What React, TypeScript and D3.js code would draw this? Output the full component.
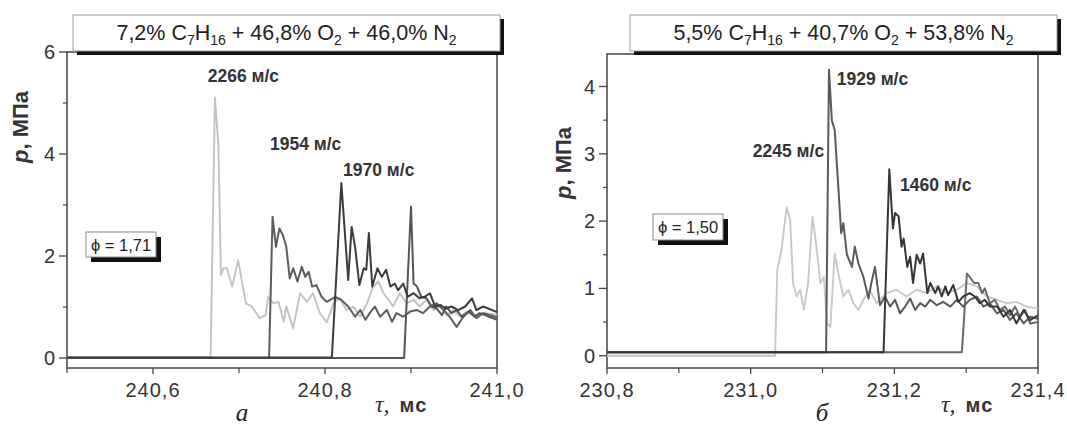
import { useEffect, useRef } from "react";
import * as d3 from "d3";

// ---- panel а : 7,2% C7H16 + 46,8% O2 + 46,0% N2, phi = 1,71 ----
const traceA1 = [
  [240.5, 0.02], [240.667, 0.02], [240.672, 5.11], [240.676, 4.18], [240.679, 1.63],
  [240.682, 1.76], [240.686, 1.76], [240.692, 1.4], [240.699, 1.92], [240.708, 1.07],
  [240.715, 1.01], [240.724, 0.78], [240.731, 0.84], [240.734, 1.2], [240.74, 1.07],
  [240.746, 1.1], [240.752, 0.71], [240.755, 1.01], [240.763, 0.58], [240.771, 1.27],
  [240.779, 1.1], [240.786, 1.27], [240.794, 0.88], [240.802, 0.7], [240.81, 1.07],
  [240.817, 1.17], [240.825, 0.94], [240.833, 1.01], [240.841, 0.81], [240.849, 1.07],
  [240.856, 1.4], [240.862, 1.5], [240.868, 1.27], [240.874, 1.14], [240.879, 1.01],
  [240.887, 1.27], [240.895, 1.07], [240.903, 1.14], [240.91, 1.01], [240.918, 1.14],
  [240.926, 0.94], [240.934, 1.01], [240.942, 0.84], [240.949, 0.94], [240.957, 0.81],
  [240.965, 0.91], [240.972, 0.84], [240.986, 0.88], [241.0, 0.85],
];
const traceA2 = [
  [240.5, 0.0], [240.735, 0.0], [240.739, 2.77], [240.743, 2.18], [240.747, 2.54],
  [240.751, 2.41], [240.755, 2.18], [240.759, 1.56], [240.763, 1.76], [240.768, 1.5],
  [240.773, 1.79], [240.777, 1.59], [240.781, 1.69], [240.785, 1.4], [240.79, 1.43],
  [240.796, 1.2], [240.802, 1.1], [240.812, 1.2], [240.819, 1.14], [240.827, 1.01],
  [240.835, 0.81], [240.841, 0.94], [240.847, 0.75], [240.852, 0.88], [240.858, 1.01],
  [240.864, 0.81], [240.872, 0.94], [240.878, 0.71], [240.883, 0.88], [240.891, 0.81],
  [240.899, 0.91], [240.907, 0.94], [240.914, 0.88], [240.922, 1.01], [240.93, 1.07],
  [240.938, 0.94], [240.945, 0.81], [240.953, 0.61], [240.961, 0.81], [240.969, 0.94],
  [240.976, 0.78], [240.984, 0.88], [241.0, 0.8],
];
const traceA3 = [
  [240.5, 0.01], [240.808, 0.01], [240.819, 3.43], [240.827, 1.53], [240.831, 2.57],
  [240.835, 2.18], [240.84, 1.43], [240.845, 1.76], [240.848, 1.73], [240.851, 2.45],
  [240.855, 1.4], [240.861, 1.76], [240.866, 1.59], [240.871, 1.73], [240.876, 1.4],
  [240.881, 1.46], [240.885, 1.33], [240.891, 1.46], [240.896, 1.2], [240.903, 1.27],
  [240.91, 1.17], [240.916, 1.2], [240.922, 1.27], [240.928, 1.01], [240.934, 1.04],
  [240.941, 0.97], [240.947, 1.01], [240.955, 0.94], [240.963, 1.01], [240.971, 1.17],
  [240.976, 0.94], [240.984, 1.01], [241.0, 0.9],
];
const traceA4 = [
  [240.5, 0.0], [240.892, 0.0], [240.9, 2.97], [240.903, 1.46], [240.907, 1.4],
  [240.912, 1.2], [240.918, 1.17], [240.924, 1.01], [240.93, 0.97], [240.936, 0.84],
  [240.941, 1.01], [240.947, 0.88], [240.953, 0.94], [240.959, 0.81], [240.967, 0.91],
  [240.974, 0.81], [240.98, 0.88], [241.0, 0.75],
];

// ---- panel б : 5,5% C7H16 + 40,7% O2 + 53,8% N2, phi = 1,50 ----
const traceB1 = [
  [230.8, 0.0], [231.034, 0.0], [231.037, 1.27], [231.043, 1.57], [231.05, 2.21],
  [231.055, 2.02], [231.059, 1.08], [231.064, 0.88], [231.069, 0.98], [231.074, 0.68],
  [231.08, 1.08], [231.086, 2.07], [231.091, 1.67], [231.097, 1.08], [231.102, 1.17],
  [231.106, 0.48], [231.111, 0.43], [231.117, 1.52], [231.123, 1.17], [231.129, 0.88],
  [231.136, 0.98], [231.143, 0.78], [231.15, 0.68], [231.157, 0.83], [231.166, 0.98],
  [231.175, 0.78], [231.189, 0.93], [231.203, 0.98], [231.217, 0.88], [231.231, 0.98],
  [231.245, 0.93], [231.259, 1.03], [231.272, 0.93], [231.287, 0.98], [231.301, 1.08],
  [231.315, 1.03], [231.329, 0.88], [231.343, 0.83], [231.356, 0.78], [231.37, 0.8],
  [231.384, 0.73], [231.4, 0.7],
];
const traceB2 = [
  [230.8, 0.05], [231.105, 0.05], [231.109, 4.25], [231.113, 3.5], [231.117, 3.35],
  [231.122, 2.51], [231.126, 1.82], [231.129, 1.97], [231.134, 1.5], [231.141, 1.32],
  [231.145, 1.62], [231.15, 1.37], [231.157, 1.17], [231.164, 0.85], [231.168, 1.08],
  [231.173, 1.32], [231.18, 0.75], [231.187, 0.88], [231.194, 0.73], [231.201, 0.83],
  [231.208, 0.63], [231.215, 0.73], [231.222, 0.85], [231.229, 0.68], [231.236, 0.78],
  [231.243, 0.73], [231.25, 0.83], [231.259, 0.75], [231.268, 0.8], [231.278, 0.73],
  [231.287, 0.83], [231.296, 0.73], [231.305, 0.83], [231.315, 0.88], [231.324, 0.73],
  [231.333, 0.78], [231.343, 0.63], [231.352, 0.68], [231.361, 0.53], [231.37, 0.63],
  [231.38, 0.48], [231.389, 0.58], [231.4, 0.55],
];
const traceB3 = [
  [230.8, 0.05], [231.185, 0.05], [231.193, 2.77], [231.198, 1.89], [231.201, 2.12],
  [231.206, 2.07], [231.21, 1.62], [231.213, 1.74], [231.218, 1.32], [231.222, 1.47],
  [231.226, 1.08], [231.231, 1.5], [231.236, 1.37], [231.24, 1.52], [231.246, 0.93],
  [231.25, 1.08], [231.257, 0.93], [231.261, 1.03], [231.266, 0.88], [231.271, 1.03],
  [231.275, 0.9], [231.282, 1.05], [231.289, 0.8], [231.296, 0.88], [231.305, 0.93],
  [231.312, 0.88], [231.319, 0.78], [231.326, 0.83], [231.333, 0.73], [231.343, 0.73],
  [231.352, 0.58], [231.361, 0.68], [231.37, 0.48], [231.38, 0.68], [231.389, 0.53],
  [231.4, 0.6],
];
const traceB4 = [
  [230.8, 0.05], [231.294, 0.05], [231.301, 1.22], [231.305, 1.17], [231.311, 1.08],
  [231.317, 1.08], [231.322, 0.93], [231.326, 1.0], [231.333, 0.78], [231.34, 0.83],
  [231.347, 0.68], [231.354, 0.73], [231.361, 0.6], [231.368, 0.73], [231.375, 0.58],
  [231.382, 0.68], [231.389, 0.48], [231.4, 0.5],
];

const xTicksA = [240.6, 240.8, 241.0];
const xLabelsA = ["240,6", "240,8", "241,0"];
const xMinorA = [240.5, 240.7, 240.9];
const yTicksA = [0, 2, 4, 6];
const yMinorA = [1, 3, 5];

const xTicksB = [230.8, 231.0, 231.2, 231.4];
const xLabelsB = ["230,8", "231,0", "231,2", "231,4"];
const xMinorB = [230.9, 231.1, 231.3];
const yTicksB = [0, 1, 2, 3, 4];
const yMinorB = [0.5, 1.5, 2.5, 3.5];

const titleA = [["7,2% C", false], ["7", true], ["H", false], ["16", true], [" + 46,8% O", false], ["2", true], [" + 46,0% N", false], ["2", true]];
const titleB = [["5,5% C", false], ["7", true], ["H", false], ["16", true], [" + 40,7% O", false], ["2", true], [" + 53,8% N", false], ["2", true]];

const notesA = [["2266 м/с", 240.6636, 5.41], ["1954 м/с", 240.736, 4.08], ["1970 м/с", 240.821, 3.57]];
const notesB = [["1929 м/с", 231.12, 4.02], ["2245 м/с", 231.003, 2.95], ["1460 м/с", 231.208, 2.45]];

const SANS = "'Liberation Sans', Arial, Helvetica, sans-serif";
const SERIF = "'Liberation Serif', 'Times New Roman', serif";

const panels = [
  {
    xDomain: [240.5, 241.0], xRange: [67, 497], yDomain: [0, 6], yRange: [358, 52],
    top: 52, bottom: 368,
    xTicks: xTicksA, xLabels: xLabelsA, xMinor: xMinorA, yTicks: yTicksA, yMinor: yMinorA,
    traces: [
      { data: traceA1, color: "#c2c2c2", w: 1.9 },
      { data: traceA2, color: "#5c5c5c", w: 2 },
      { data: traceA4, color: "#555555", w: 2 },
      { data: traceA3, color: "#3c3c3c", w: 2 },
    ],
    title: titleA, titleBox: [73, 15, 427, 36],
    phi: "ϕ = 1,71", phiBox: [86, 232, 70, 25],
    notes: notesA, yLabel: [28, 127], xLabelX: 375, letter: "а", letterX: 242,
  },
  {
    xDomain: [230.8, 231.4], xRange: [607, 1038], yDomain: [0, 4], yRange: [355.7, 86.5],
    top: 54, bottom: 368,
    xTicks: xTicksB, xLabels: xLabelsB, xMinor: xMinorB, yTicks: yTicksB, yMinor: yMinorB,
    traces: [
      { data: traceB1, color: "#c8c8c8", w: 1.9 },
      { data: traceB4, color: "#6a6a6a", w: 2 },
      { data: traceB2, color: "#5a5a5a", w: 2 },
      { data: traceB3, color: "#363636", w: 2 },
    ],
    title: titleB, titleBox: [630, 15, 427, 36],
    phi: "ϕ = 1,50", phiBox: [653, 214, 70, 26],
    notes: notesB, yLabel: [571, 163], xLabelX: 941, letter: "б", letterX: 822,
  },
];

const App = () => {
  const svgRef = useRef(null);

  useEffect(() => {
    document.body.style.margin = "0";
    const svg = d3.select(svgRef.current);
    svg.selectAll("*").remove();

    panels.forEach((p) => {
      const x = d3.scaleLinear().domain(p.xDomain).range(p.xRange);
      const y = d3.scaleLinear().domain(p.yDomain).range(p.yRange);
      const g = svg.append("g");
      const [x0, x1] = p.xRange;

      // frame
      g.append("rect")
        .attr("x", x0).attr("y", p.top)
        .attr("width", x1 - x0).attr("height", p.bottom - p.top)
        .attr("fill", "none").attr("stroke", "#444").attr("stroke-width", 1.5);

      // y ticks
      p.yTicks.forEach((v) => {
        g.append("line").attr("x1", x0 - 8).attr("x2", x0).attr("y1", y(v)).attr("y2", y(v))
          .attr("stroke", "#444").attr("stroke-width", 1.3);
        g.append("text").attr("x", x0 - 12).attr("y", y(v) + 7)
          .attr("text-anchor", "end").style("font-family", SANS).style("font-size", "20px")
          .attr("fill", "#333").text(v);
      });
      p.yMinor.forEach((v) => {
        g.append("line").attr("x1", x0 - 4).attr("x2", x0).attr("y1", y(v)).attr("y2", y(v))
          .attr("stroke", "#444").attr("stroke-width", 1.2);
      });

      // x ticks
      p.xTicks.forEach((v, i) => {
        g.append("line").attr("x1", x(v)).attr("x2", x(v)).attr("y1", p.bottom).attr("y2", p.bottom + 6)
          .attr("stroke", "#444").attr("stroke-width", 1.3);
        g.append("text").attr("x", x(v)).attr("y", p.bottom + 29)
          .attr("text-anchor", "middle").style("font-family", SANS).style("font-size", "20px")
          .style("letter-spacing", "1px").attr("fill", "#333").text(p.xLabels[i]);
      });
      p.xMinor.forEach((v) => {
        g.append("line").attr("x1", x(v)).attr("x2", x(v)).attr("y1", p.bottom).attr("y2", p.bottom + 5)
          .attr("stroke", "#444").attr("stroke-width", 1.2);
      });

      // traces
      const line = d3.line().x((d) => x(d[0])).y((d) => y(d[1]));
      p.traces.forEach((t) => {
        g.append("path").attr("d", line(t.data)).attr("fill", "none")
          .attr("stroke", t.color).attr("stroke-width", t.w).attr("stroke-linejoin", "round");
      });

      // velocity labels
      p.notes.forEach(([txt, tv, pv]) => {
        g.append("text").attr("x", x(tv)).attr("y", y(pv))
          .style("font-family", SANS).style("font-size", "17.5px").style("font-weight", "bold")
          .attr("fill", "#333").text(txt);
      });

      // title box with shadow
      const [bx, by, bw, bh] = p.titleBox;
      g.append("rect").attr("x", bx + 4).attr("y", by + 4).attr("width", bw).attr("height", bh).attr("fill", "#111");
      g.append("rect").attr("x", bx).attr("y", by).attr("width", bw).attr("height", bh)
        .attr("fill", "#fff").attr("stroke", "#999").attr("stroke-width", 1);
      const tt = g.append("text").attr("x", bx + bw / 2).attr("y", by + 25)
        .attr("text-anchor", "middle").style("font-family", SANS).style("font-size", "21.5px").attr("fill", "#222");
      let shifted = false;
      p.title.forEach(([s, sub]) => {
        const span = tt.append("tspan").text(s);
        if (sub && !shifted) { span.attr("dy", 5).style("font-size", "14px"); shifted = true; }
        else if (!sub && shifted) { span.attr("dy", -5); shifted = false; }
        else if (sub) span.style("font-size", "14px");
      });

      // phi box
      const [px, py, pw, ph] = p.phiBox;
      g.append("rect").attr("x", px + 5).attr("y", py + 5).attr("width", pw).attr("height", ph).attr("fill", "#111");
      g.append("rect").attr("x", px).attr("y", py).attr("width", pw).attr("height", ph)
        .attr("fill", "#fff").attr("stroke", "#888").attr("stroke-width", 1);
      g.append("text").attr("x", px + pw / 2).attr("y", py + ph / 2 + 6).attr("text-anchor", "middle")
        .style("font-family", SANS).style("font-size", "16.5px").attr("fill", "#222").text(p.phi);

      // y axis title
      const yl = g.append("text")
        .attr("transform", `translate(${p.yLabel[0]},${p.yLabel[1]}) rotate(-90)`)
        .attr("text-anchor", "middle").style("font-family", SANS).style("font-size", "22px")
        .style("font-weight", "bold").attr("fill", "#333");
      yl.append("tspan").style("font-style", "italic").text("p");
      yl.append("tspan").text(", МПа");

      // x axis title
      const xl = g.append("text").attr("x", p.xLabelX).attr("y", 412).attr("fill", "#333");
      xl.append("tspan").style("font-family", SERIF).style("font-style", "italic").style("font-size", "24px").text("τ,");
      xl.append("tspan").attr("dx", 10).style("font-family", SANS).style("font-weight", "bold")
        .style("font-size", "20px").style("letter-spacing", "1px").text("мс");

      // panel letter
      g.append("text").attr("x", p.letterX).attr("y", 421).attr("text-anchor", "middle")
        .style("font-family", SERIF).style("font-style", "italic").style("font-size", "25px")
        .attr("fill", "#222").text(p.letter);
    });
  }, []);

  return (
    <div style={{ width: 1067, height: 426, background: "#fff" }}>
      <svg ref={svgRef} width={1067} height={426} style={{ display: "block" }}></svg>
    </div>
  );
};

export default App;
